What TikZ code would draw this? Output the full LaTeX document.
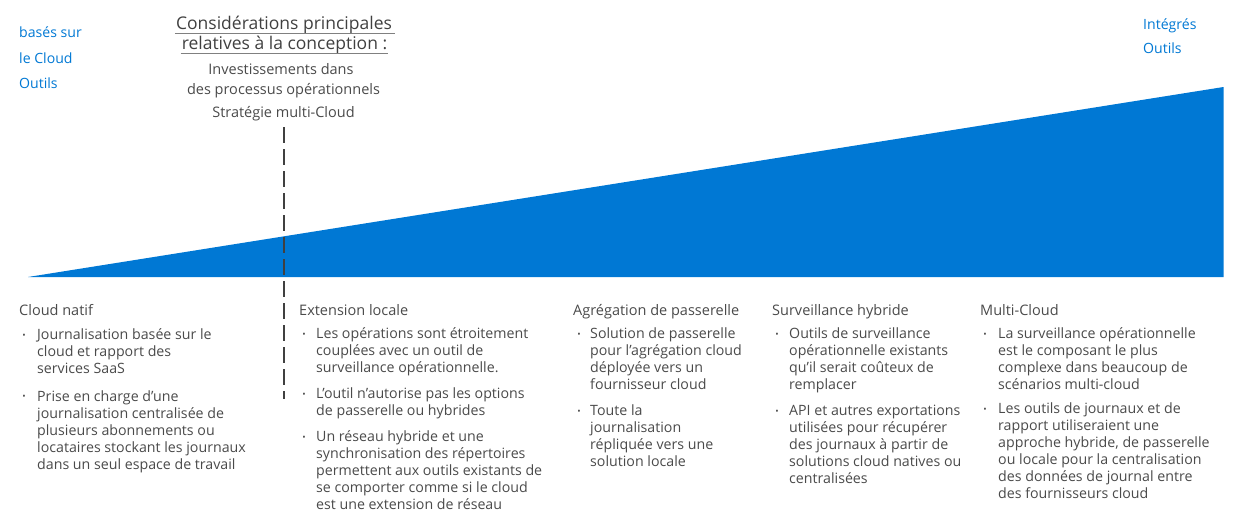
\documentclass[tikz,border=0pt]{standalone}
\usepackage{fontspec}
\setmainfont{Open Sans}
\usetikzlibrary{calc}
\definecolor{azure}{HTML}{0078D4}
\definecolor{inkgray}{HTML}{404040}
\definecolor{bodygray}{HTML}{4A4A4A}
\definecolor{rulegray}{HTML}{808080}
% stacked lines whose baseline is the first line
\newcommand{\stack}[1]{\begin{tabular}[t]{@{}l@{}}#1\end{tabular}}
\begin{document}
\begin{tikzpicture}[x=1pt,y=-1pt,
  txt/.style={inner sep=0pt, anchor=base west, text=bodygray,
    font=\fontsize{14.2}{17}\selectfont},
  head/.style={txt, font=\fontsize{14.5}{17}\selectfont},
  dot/.style={inner sep=0pt, anchor=base, yshift=1.2pt, text=bodygray, font=\fontsize{9}{9}\selectfont},
  side/.style={inner sep=0pt, anchor=base west, text=azure, font=\fontsize{14.1}{17}\selectfont},
  ttl/.style={inner sep=0pt, anchor=base, text=inkgray, font=\fontsize{17.5}{20}\selectfont},
  sub/.style={inner sep=0pt, anchor=base, text=bodygray, font=\fontsize{14.5}{17}\selectfont},
  divider/.style={draw=inkgray, line width=2pt, dash pattern=on 16pt off 6pt},
  uline/.style={draw=rulegray, line width=1.3pt}]
\useasboundingbox (0,0) rectangle (1234,514);

% growth wedge
\fill[azure] (28,277) coordinate (w1) -- (1223.5,277) coordinate (w2) -- (1223.5,87) coordinate (w3) -- cycle;

% side labels
\node[side] (l1) at (19,37.5) {basés sur};
\node[side] (l2) at (19,63) {le Cloud};
\node[side] (l3) at (19,88.5) {Outils};
\node[side] (r1) at (1143,29) {Intégrés};
\node[side] (r2) at (1143,53.5) {Outils};

% design considerations
\node[ttl] (t1) at (284,29.3) {Considérations principales};
\node[ttl] (t2) at (284.5,49.3) {relatives à la conception :};
\draw[uline] ($(t1.base west)+(-1,4)$) -- ($(t1.base east)+(3,4)$);
\draw[uline] ($(t2.base west)+(-1,4)$) -- ($(t2.base east)+(1,4)$);
\node[sub] (s1) at (281,74) {Investissements dans};
\node[sub] (s2) at (283.5,94) {des processus opérationnels};
\node[sub] (s3) at (283.5,117) {Stratégie multi-Cloud};

\coordinate (d1) at (284,127);
\coordinate (d2) at (284,399);
\draw[divider] (d1) -- (d2);

% column 1
\node[head] (h1) at (19,315.5) {Cloud natif};
\node[dot] (b11) at (24,339.5) {•};
\node[txt] (c11) at (37,339.5) {\stack{Journalisation basée sur le\\cloud et rapport des\\services SaaS}};
\node[dot] (b12) at (24,401) {•};
\node[txt] (c12) at (37,401) {\stack{Prise en charge d’une\\journalisation centralisée de\\plusieurs abonnements ou\\locataires stockant les journaux\\dans un seul espace de travail}};

% column 2
\node[head] (h2) at (299,315) {Extension locale};
\node[dot] (b21) at (304,338.5) {•};
\node[txt] (c21) at (316,338.5) {\stack{Les opérations sont étroitement\\couplées avec un outil de\\surveillance opérationnelle.}};
\node[dot] (b22) at (304,398.5) {•};
\node[txt] (c22) at (316,398.5) {\stack{L’outil n’autorise pas les options\\de passerelle ou hybrides}};
\node[dot] (b23) at (304,441.5) {•};
\node[txt] (c23) at (316,441.5) {\stack{Un réseau hybride et une\\synchronisation des répertoires\\permettent aux outils existants de\\se comporter comme si le cloud\\est une extension de réseau}};

% column 3
\node[head] (h3) at (573,315) {Agrégation de passerelle};
\node[dot] (b31) at (579,338.5) {•};
\node[txt] (c31) at (590,338.5) {\stack{Solution de passerelle\\pour l’agrégation cloud\\déployée vers un\\fournisseur cloud}};
\node[dot] (b32) at (579,415.5) {•};
\node[txt] (c32) at (590,415.5) {\stack{Toute la\\journalisation\\répliquée vers une\\solution locale}};

% column 4
\node[head] (h4) at (772,315) {Surveillance hybride};
\node[dot] (b41) at (777,338.5) {•};
\node[txt] (c41) at (789,338.5) {\stack{Outils de surveillance\\opérationnelle existants\\qu’il serait coûteux de\\remplacer}};
\node[dot] (b42) at (777,415.5) {•};
\node[txt] (c42) at (789,415.5) {\stack{API et autres exportations\\utilisées pour récupérer\\des journaux à partir de\\solutions cloud natives ou\\centralisées}};

% column 5
\node[head] (h5) at (980,315) {Multi-Cloud};
\node[dot] (b51) at (985,338.5) {•};
\node[txt] (c51) at (998,338.5) {\stack{La surveillance opérationnelle\\est le composant le plus\\complexe dans beaucoup de\\scénarios multi-cloud}};
\node[dot] (b52) at (985,413.5) {•};
\node[txt] (c52) at (998,413.5) {\stack{Les outils de journaux et de\\rapport utiliseraient une\\approche hybride, de passerelle\\ou locale pour la centralisation\\des données de journal entre\\des fournisseurs cloud}};
\end{tikzpicture}
\end{document}
